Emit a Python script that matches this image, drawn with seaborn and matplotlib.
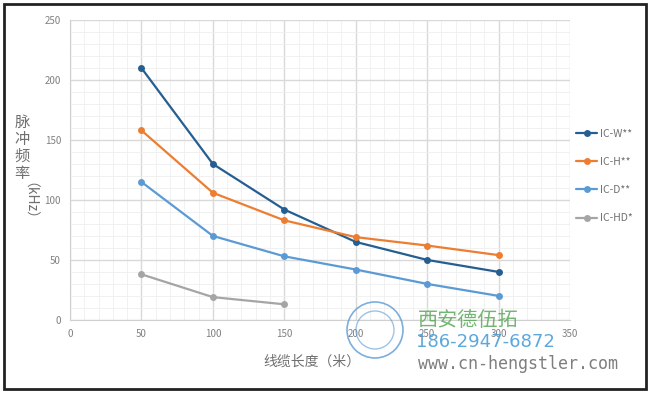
import pandas as pd
import matplotlib.pyplot as plt
import seaborn as sns
from matplotlib.patches import Rectangle, Circle
from matplotlib.ticker import MultipleLocator

lengths = [50, 100, 150, 200, 250, 300]
ic_w = [210, 130, 92, 65, 50, 40]
ic_h = [158, 106, 83, 69, 62, 54]
ic_d = [115, 70, 53, 42, 30, 20]
ic_hd = [38, 19, 13]
series_names = ['IC-W**', 'IC-H**', 'IC-D**', 'IC-HD*']
colors = ['#255e91', '#ed7d31', '#5b9bd5', '#a5a5a5']

rows = []
for name, vals in zip(series_names, [ic_w, ic_h, ic_d, ic_hd]):
    for x, v in zip(lengths, vals):
        rows.append({'length': x, 'freq': v, 'series': name})
df = pd.DataFrame(rows)

sns.set_style('white')
plt.rcParams['font.family'] = ['Noto Sans CJK SC', 'DejaVu Sans']

fig = plt.figure(figsize=(6.5, 3.93), dpi=100)
ax = fig.add_axes([0.1077, 0.186, 0.7693, 0.763])

sns.lineplot(data=df, x='length', y='freq', hue='series', palette=colors,
             marker='o', markersize=5, markeredgewidth=0, linewidth=1.6, ax=ax)

ax.set_xlim(0, 350)
ax.set_ylim(0, 250)
ax.xaxis.set_major_locator(MultipleLocator(50))
ax.yaxis.set_major_locator(MultipleLocator(50))
ax.xaxis.set_minor_locator(MultipleLocator(10))
ax.yaxis.set_minor_locator(MultipleLocator(10))
ax.grid(which='major', color='#d9d9d9', linewidth=1.0)
ax.grid(which='minor', color='#efefef', linewidth=0.6)
ax.set_axisbelow(True)
for s in ['top', 'right']:
    ax.spines[s].set_visible(False)
for s in ['left', 'bottom']:
    ax.spines[s].set_color('#d0d0d0')
ax.tick_params(which='major', length=3, color='#d0d0d0', labelsize=7, labelcolor='#808080')
ax.tick_params(which='minor', length=0)
ax.set_xlabel('')
ax.set_ylabel('')

handles, labels = ax.get_legend_handles_labels()
ax.legend(handles, labels, loc='center left', bbox_to_anchor=(1.0, 0.48), frameon=False,
          fontsize=7.5, labelcolor='#707070', handlelength=2.0, handletextpad=0.3,
          labelspacing=1.75, borderaxespad=0.2)

# y label: stacked characters plus rotated unit
fig.text(22 / 650, 1 - 148 / 393, '脉\n冲\n频\n率', fontsize=11, color='#707070',
         ha='center', va='center', linespacing=1.0)
fig.text(22 / 650, 1 - 208 / 393, '（kHz）', fontsize=10, color='#707070',
         ha='center', va='center', rotation=270)

# x label
fig.text(312 / 650, 1 - 362 / 393, '线缆长度（米）', fontsize=10, color='#707070',
         ha='center', va='center')

# watermark
fig.patches.append(Circle((3.75, 0.63), 0.28, transform=fig.dpi_scale_trans,
                          fill=False, edgecolor='#5b9bd5', linewidth=1.2, alpha=0.8))
fig.patches.append(Circle((3.75, 0.63), 0.19, transform=fig.dpi_scale_trans,
                          fill=False, edgecolor='#5b9bd5', linewidth=1.0, alpha=0.6))
fig.text(418 / 650, 1 - 320 / 393, '西安德伍拓', fontsize=14.5, color='#5aa85a',
         ha='left', va='center', alpha=0.85)
fig.text(416 / 650, 1 - 342 / 393, '186-2947-6872', fontsize=13, color='#4a9fd8',
         ha='left', va='center', family='DejaVu Sans', alpha=0.9)
fig.text(418 / 650, 1 - 364 / 393, 'www.cn-hengstler.com', fontsize=12, color='#707070',
         ha='left', va='center', family='DejaVu Sans Mono', alpha=0.9)

# outer frame
fig.patches.append(Rectangle((4 / 650, 4 / 393), 642 / 650, 385 / 393, transform=fig.transFigure,
                             fill=False, edgecolor='#222222', linewidth=2))

fig.savefig('out.png', dpi=100)
